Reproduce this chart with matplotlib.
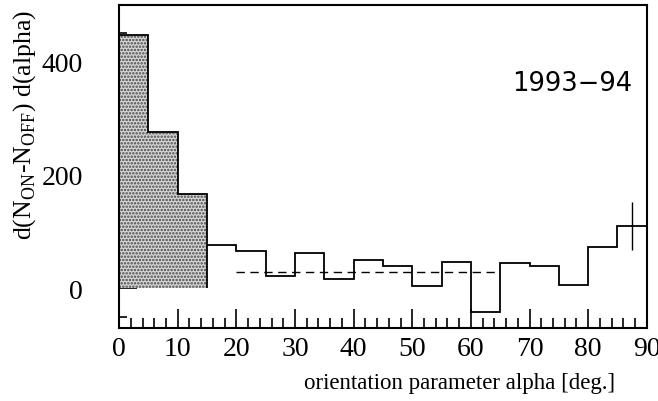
import numpy as np
import matplotlib
matplotlib.use('Agg')
from matplotlib import pyplot as plt
from matplotlib.ticker import MultipleLocator

# histogram of alpha, 5 degree bins
edges = np.arange(0, 95, 5)
counts = [447, 275, 166, 76, 65, 21, 62, 17, 50, 40, 3, 46, -42, 45, 40, 6, 72, 110]
n_signal = 3            # first three bins are shaded (alpha < 15)
last_err = 43           # error bar drawn on last bin
bg_level = 29           # dashed mean level
bg_range = (20, 65)
label_year = '1993\u221294'

plt.rcParams['font.family'] = ['Liberation Serif', 'DejaVu Serif']
plt.rcParams['mathtext.fontset'] = 'custom'
plt.rcParams['mathtext.rm'] = 'Liberation Serif'
plt.rcParams['hatch.linewidth'] = 1.2

fig = plt.figure(figsize=(6.58, 4.02), dpi=100)
ax = fig.add_axes([0.181, 0.182, 0.802, 0.803])

# shaded signal region (drawn over the inward ticks like the original)
ax.stairs(counts[:n_signal], edges[:n_signal + 1], fill=True, baseline=0,
          facecolor='#d8d8d8', edgecolor='#444444', hatch='.....', linewidth=0,
          zorder=3)
ax.vlines(edges[n_signal], 0, counts[n_signal], color='k', lw=1.3, zorder=4)

# full histogram outline
ax.stairs(counts, edges, baseline=None, color='k', lw=1.3, zorder=4)

centers = (edges[:-1] + edges[1:]) / 2
ax.errorbar(centers[-1], counts[-1], yerr=last_err, fmt='none', ecolor='k',
            elinewidth=1.0, capsize=0, zorder=4)

ax.hlines(bg_level, bg_range[0], bg_range[1], colors='k', lw=1.0,
          linestyles=(0, (6, 4)))

ax.set_xlim(0, 90)
ax.set_ylim(-70, 500)
ax.xaxis.set_major_locator(MultipleLocator(10))
ax.xaxis.set_minor_locator(MultipleLocator(2))
ax.yaxis.set_major_locator(MultipleLocator(200))
ax.yaxis.set_minor_locator(MultipleLocator(50))
ax.set_yticks([0, 200, 400])
ax.tick_params(axis='x', which='major', direction='in', length=14, width=1.2,
               labelsize=20, pad=6)
ax.tick_params(axis='x', which='minor', direction='in', length=7, width=1.2)
ax.tick_params(axis='y', which='major', direction='in', length=13, width=1.2,
               labelsize=20, pad=26)
ax.tick_params(axis='y', which='minor', direction='in', length=6, width=1.2)
for s in ax.spines.values():
    s.set_linewidth(1.5)
    s.set_zorder(5)

ax.text(0.972, 0.76, label_year, transform=ax.transAxes, ha='right', va='center',
        fontsize=18.5, family=['DejaVu Sans'])

fig.text(0.038, 0.69, r'd(N$_{\mathrm{ON}}$-N$_{\mathrm{OFF}}$) d(alpha)',
         rotation=90, ha='center', va='center', fontsize=18.5)
fig.text(0.935, 0.045, 'orientation parameter alpha [deg.]', ha='right',
         va='center', fontsize=16.5)

fig.savefig('out.png', dpi=100)
